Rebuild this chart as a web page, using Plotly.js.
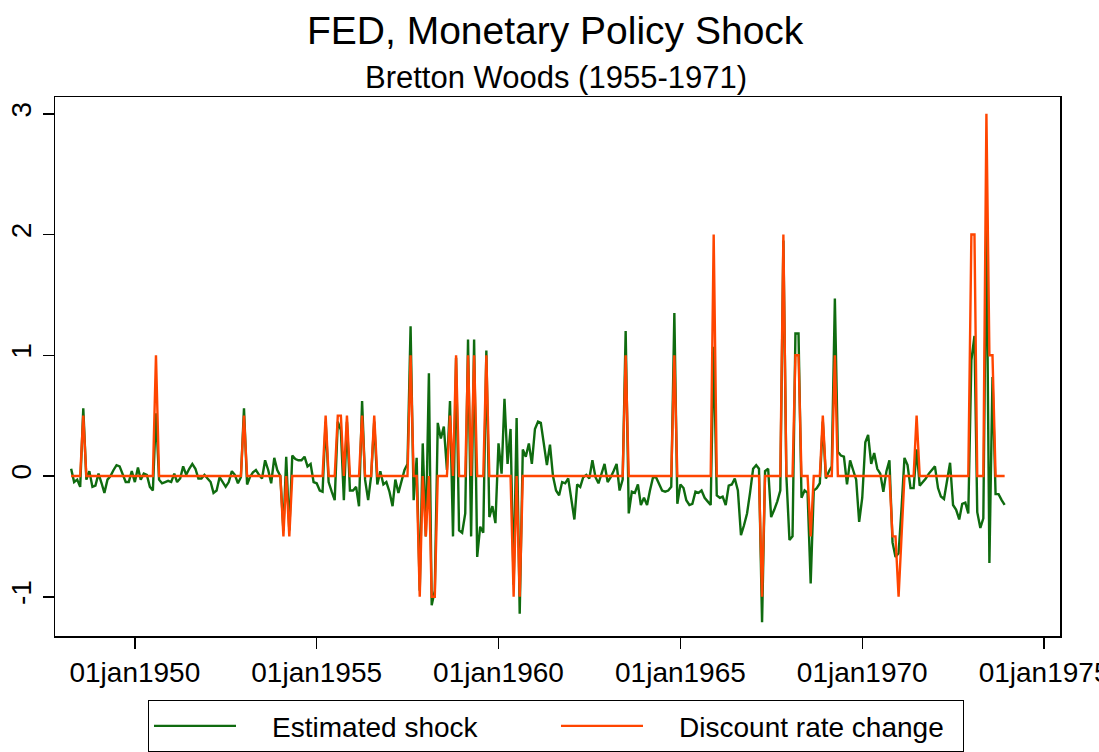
<!DOCTYPE html>
<html>
<head>
<meta charset="utf-8">
<script src="https://cdn.plot.ly/plotly-3.0.1.min.js"></script>
<style>
  html, body { margin: 0; padding: 0; background: #ffffff; }
  #chart { width: 1099px; height: 752px; }
</style>
</head>
<body>
<div id="chart"></div>
<script>
// Monthly observations, April 1948 to December 1973
const startYear = 1948;
const startMonth = 4;

// Estimated shock (one row per calendar year)
const estimatedShock = [
  /*1948*/ 0.06, -0.05, -0.03, -0.09, 0.56, -0.03, 0.04, -0.09, -0.08,
  /*1949*/ 0.02, -0.06, -0.14, -0.03, 0.00, 0.05, 0.09, 0.08, 0.02, -0.05, -0.05, 0.04,
  /*1950*/ -0.05, 0.07, -0.03, 0.02, 0.01, -0.09, -0.12, 0.52, -0.03, -0.06, -0.05, -0.04,
  /*1951*/ -0.05, 0.02, -0.05, -0.02, 0.08, 0.01, 0.06, 0.10, 0.06, -0.02, -0.02, 0.01,
  /*1952*/ -0.02, -0.05, -0.14, -0.12, -0.01, -0.05, -0.09, -0.05, 0.04, 0.01, -0.06, -0.01,
  /*1953*/ 0.56, -0.07, -0.01, 0.03, 0.05, 0.01, -0.02, 0.13, 0.05, -0.06, 0.15, 0.05,
  /*1954*/ 0.00, -0.45, 0.16, -0.45, 0.17, 0.14, 0.13, 0.13, 0.16, 0.08, 0.10, -0.05,
  /*1955*/ -0.06, -0.12, -0.13, 0.45, -0.05, -0.13, -0.20, 0.45, 0.38, -0.20, 0.45, -0.12,
  /*1956*/ -0.12, -0.09, -0.25, 0.62, -0.03, -0.20, 0.00, 0.45, -0.07, 0.04, -0.07, -0.05,
  /*1957*/ -0.13, -0.25, -0.03, -0.14, -0.05, 0.05, 0.10, 1.24, -0.20, 0.15, -0.95, 0.27,
  /*1958*/ -0.50, 0.85, -1.07, -0.95, 0.44, 0.31, 0.41, 0.05, 0.62, -0.50, 0.98, -0.45,
  /*1959*/ -0.47, -0.31, 1.13, -0.50, 1.13, -0.67, -0.42, -0.47, 1.04, -0.34, -0.25, -0.39,
  /*1960*/ 0.27, 0.02, 0.64, 0.10, 0.39, -0.90, 0.48, -1.14, 0.22, 0.16, 0.27, 0.10,
  /*1961*/ 0.39, 0.45, 0.44, 0.27, 0.09, 0.26, 0.00, -0.12, -0.16, -0.05, -0.06, -0.02,
  /*1962*/ -0.20, -0.36, -0.07, -0.09, -0.01, 0.01, -0.02, 0.13, -0.01, -0.06, 0.02, 0.10,
  /*1963*/ -0.05, -0.01, 0.04, 0.10, -0.12, -0.03, 1.20, -0.31, -0.13, -0.14, -0.07, -0.24,
  /*1964*/ -0.18, -0.24, -0.12, -0.01, -0.01, -0.06, -0.12, -0.13, -0.12, -0.09, 1.35, -0.23,
  /*1965*/ -0.07, -0.10, -0.20, -0.24, -0.23, -0.13, -0.14, -0.12, -0.18, -0.21, -0.24, 1.07,
  /*1966*/ -0.16, -0.18, -0.17, -0.24, -0.08, -0.07, -0.02, -0.12, -0.49, -0.41, -0.31, -0.14,
  /*1967*/ 0.06, 0.09, 0.06, -1.21, 0.04, 0.06, -0.34, -0.28, -0.21, -0.12, 1.95, 0.00,
  /*1968*/ -0.53, -0.50, 1.18, 1.18, -0.18, -0.12, -0.14, -0.89, -0.12, -0.10, -0.06, 0.45,
  /*1969*/ -0.02, 0.04, 0.08, 1.47, 0.20, 0.17, 0.16, -0.07, 0.13, 0.05, -0.03, -0.38,
  /*1970*/ -0.18, 0.28, 0.34, 0.10, 0.19, 0.06, 0.02, -0.13, 0.04, 0.13, -0.55, -0.67,
  /*1971*/ -0.64, -0.25, 0.15, 0.09, -0.10, -0.10, 0.22, -0.08, -0.05, -0.02, 0.02, 0.05,
  /*1972*/ 0.08, -0.10, -0.17, -0.19, -0.05, 0.11, -0.24, -0.28, -0.36, -0.23, -0.22, -0.31,
  /*1973*/ 0.96, 1.16, -0.30, -0.43, -0.35, 2.13, -0.72, 0.82, -0.15, -0.15, -0.20, -0.24
];

// Discount rate change (one row per calendar year)
const discountRateChange = [
  /*1948*/ 0, 0, 0, 0, 0.5, 0, 0, 0, 0,
  /*1949*/ 0, 0, 0, 0, 0, 0, 0, 0, 0, 0, 0, 0,
  /*1950*/ 0, 0, 0, 0, 0, 0, 0, 1, 0, 0, 0, 0,
  /*1951*/ 0, 0, 0, 0, 0, 0, 0, 0, 0, 0, 0, 0,
  /*1952*/ 0, 0, 0, 0, 0, 0, 0, 0, 0, 0, 0, 0,
  /*1953*/ 0.5, 0, 0, 0, 0, 0, 0, 0, 0, 0, 0, 0,
  /*1954*/ 0, -0.5, 0, -0.5, 0, 0, 0, 0, 0, 0, 0, 0,
  /*1955*/ 0, 0, 0, 0.5, 0, 0, 0, 0.5, 0.5, 0, 0.5, 0,
  /*1956*/ 0, 0, 0, 0.5, 0, 0, 0, 0.5, 0, 0, 0, 0,
  /*1957*/ 0, 0, 0, 0, 0, 0, 0, 1, 0, 0, -1, 0,
  /*1958*/ -0.5, 0, -1, -1, 0, 0, 0, 0, 0.5, 0, 1, 0,
  /*1959*/ 0, 0, 1, 0, 1, 0, 0, 0, 1, 0, 0, 0,
  /*1960*/ 0, 0, 0, 0, 0, -1, 0, -1, 0, 0, 0, 0,
  /*1961*/ 0, 0, 0, 0, 0, 0, 0, 0, 0, 0, 0, 0,
  /*1962*/ 0, 0, 0, 0, 0, 0, 0, 0, 0, 0, 0, 0,
  /*1963*/ 0, 0, 0, 0, 0, 0, 1, 0, 0, 0, 0, 0,
  /*1964*/ 0, 0, 0, 0, 0, 0, 0, 0, 0, 0, 1, 0,
  /*1965*/ 0, 0, 0, 0, 0, 0, 0, 0, 0, 0, 0, 2,
  /*1966*/ 0, 0, 0, 0, 0, 0, 0, 0, 0, 0, 0, 0,
  /*1967*/ 0, 0, 0, -1, 0, 0, 0, 0, 0, 0, 2, 0,
  /*1968*/ 0, 0, 1, 1, 0, 0, 0, -0.5, 0, 0, 0, 0.5,
  /*1969*/ 0, 0, 0, 1, 0, 0, 0, 0, 0, 0, 0, 0,
  /*1970*/ 0, 0, 0, 0, 0, 0, 0, 0, 0, 0, -0.5, -0.5,
  /*1971*/ -1, -0.5, 0, 0, 0, 0, 0.5, 0, 0, 0, 0, 0,
  /*1972*/ 0, 0, 0, 0, 0, 0, 0, 0, 0, 0, 0, 0,
  /*1973*/ 2, 2, 0, 0, 0, 3, 1, 1, 0, 0, 0, 0
];

// Axis ticks
const xTickDates = ['1950-01-01', '1955-01-01', '1960-01-01', '1965-01-01', '1970-01-01', '1975-01-01'];
const xTickLabels = ['01jan1950', '01jan1955', '01jan1960', '01jan1965', '01jan1970', '01jan1975'];
const yTickValues = [-1, 0, 1, 2, 3];
const yTickLabels = ['-1', '0', '1', '2', '3'];

// Texts
const chartTitle = 'FED, Monetary Policy Shock';
const chartSubtitle = 'Bretton Woods (1955-1971)';
const seriesNames = ['Estimated shock', 'Discount rate change'];

// Month dates for the observations
const monthDates = estimatedShock.map(function (_, k) {
  const m = startMonth - 1 + k;
  const y = startYear + Math.floor(m / 12);
  const mm = (m % 12) + 1;
  return y + '-' + (mm < 10 ? '0' + mm : mm) + '-01';
});

const FONT = 'Liberation Sans, Arial, Helvetica, sans-serif';
const GAP = '\u00a0\u00a0\u00a0\u00a0';

const traces = [
  {
    x: monthDates, y: estimatedShock, type: 'scatter', mode: 'lines',
    name: GAP + seriesNames[0],
    line: { color: '#0f6b0f', width: 2.4 }
  },
  {
    x: monthDates, y: discountRateChange, type: 'scatter', mode: 'lines',
    name: GAP + seriesNames[1],
    line: { color: '#ff4500', width: 2.4 }
  }
];

const layout = {
  width: 1099, height: 752,
  paper_bgcolor: '#ffffff', plot_bgcolor: '#ffffff',
  margin: { l: 55, r: 39, t: 97, b: 116, pad: 0, autoexpand: false },
  font: { family: FONT, color: '#000000', size: 28 },
  annotations: [
    {
      text: chartTitle, xref: 'paper', yref: 'paper', x: 0.4985, y: 1.1243,
      xanchor: 'center', yanchor: 'middle', showarrow: false,
      font: { family: FONT, size: 39, color: '#000000' }
    },
    {
      text: chartSubtitle, xref: 'paper', yref: 'paper', x: 0.4985, y: 1.037,
      xanchor: 'center', yanchor: 'middle', showarrow: false,
      font: { family: FONT, size: 31, color: '#000000' }
    }
  ],
  xaxis: {
    type: 'date',
    range: ['1947-10-22', '1975-06-10'],
    tickmode: 'array', tickvals: xTickDates, ticktext: xTickLabels,
    ticklabeloverflow: 'allow',
    ticks: 'outside', ticklen: 11, tickwidth: 1.5, tickcolor: '#000000',
    showline: true, linecolor: '#000000', linewidth: 1.5, mirror: true,
    showgrid: false, zeroline: false,
    tickfont: { family: FONT, size: 28, color: '#000000' }
  },
  yaxis: {
    range: [-1.325, 3.139],
    tickmode: 'array', tickvals: yTickValues, ticktext: yTickLabels,
    tickangle: -90,
    ticklabeloverflow: 'allow',
    ticks: 'outside', ticklen: 11, tickwidth: 1.5, tickcolor: '#000000',
    showline: true, linecolor: '#000000', linewidth: 1.5, mirror: true,
    showgrid: false, zeroline: false,
    tickfont: { family: FONT, size: 28, color: '#000000' }
  },
  showlegend: true,
  legend: {
    orientation: 'h',
    x: 0.4985, xanchor: 'center',
    y: -0.119, yanchor: 'top',
    bordercolor: '#000000', borderwidth: 1,
    bgcolor: '#ffffff',
    font: { family: FONT, size: 28, color: '#000000' },
    itemwidth: 82,
    entrywidth: 310, entrywidthmode: 'pixels',
    traceorder: 'normal'
  }
};

Plotly.newPlot('chart', traces, layout, { displayModeBar: false, staticPlot: true });
</script>
</body>
</html>
